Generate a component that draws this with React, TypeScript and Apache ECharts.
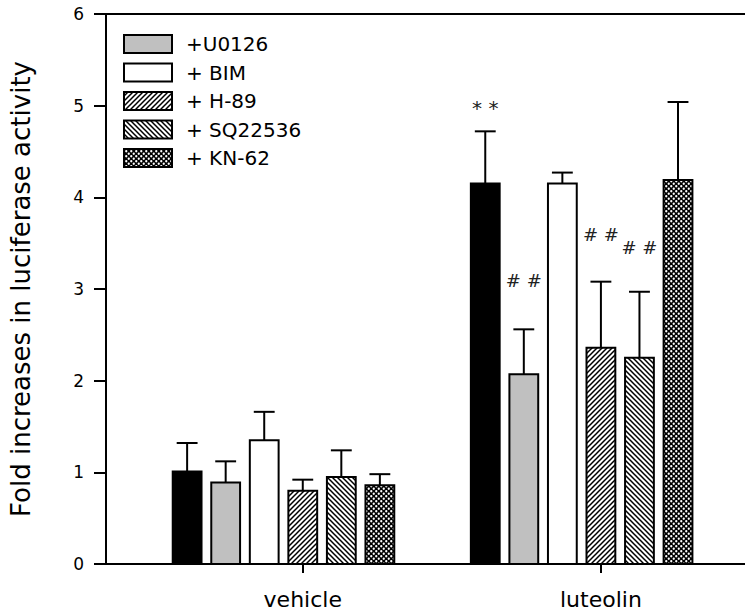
import React, { useEffect, useRef } from "react";
import * as echarts from "echarts";

const categories = ["vehicle", "luteolin"];
const treatments = ["Control", "+U0126", "+ BIM", "+ H-89", "+ SQ22536", "+ KN-62"];
const vehicleMean = [1.01, 0.89, 1.35, 0.8, 0.95, 0.86];
const vehicleErr = [0.31, 0.23, 0.31, 0.12, 0.29, 0.12];
const luteolinMean = [4.15, 2.07, 4.15, 2.36, 2.25, 4.19];
const luteolinErr = [0.57, 0.49, 0.12, 0.72, 0.72, 0.85];
const luteolinMarks = ["* *", "# #", "", "# #", "# #", ""];
const luteolinMarkY = [4.98, 3.09, 0, 3.59, 3.45, 0];
const yLabel = "Fold increases in luciferase activity";

const FONT = "DejaVu Sans";

function makeTile(kind: string): string {
  const s = 5;
  const c = document.createElement("canvas");
  c.width = s;
  c.height = s;
  const ctx = c.getContext("2d")!;
  if (kind === "dots") {
    ctx.fillStyle = "#000";
    ctx.fillRect(0, 0, s, s);
    ctx.fillStyle = "#fff";
    const pts = [
      [1.25, 1.25],
      [3.75, 3.75],
    ];
    for (const [x, y] of pts) {
      ctx.beginPath();
      ctx.arc(x, y, 1.15, 0, Math.PI * 2);
      ctx.fill();
    }
  } else {
    ctx.fillStyle = "#fff";
    ctx.fillRect(0, 0, s, s);
    ctx.strokeStyle = "#000";
    ctx.lineWidth = 1.5;
    ctx.beginPath();
    if (kind === "fwd") {
      ctx.moveTo(-1, s + 1);
      ctx.lineTo(s + 1, -1);
      ctx.moveTo(-1, 1);
      ctx.lineTo(1, -1);
      ctx.moveTo(s - 1, s + 1);
      ctx.lineTo(s + 1, s - 1);
    } else {
      ctx.moveTo(-1, -1);
      ctx.lineTo(s + 1, s + 1);
      ctx.moveTo(s - 1, -1);
      ctx.lineTo(s + 1, 1);
      ctx.moveTo(-1, s - 1);
      ctx.lineTo(1, s + 1);
    }
    ctx.stroke();
  }
  return c.toDataURL();
}

export default function App() {
  const ref = useRef<HTMLDivElement>(null);
  useEffect(() => {
    if (!ref.current) return;
    const chart = echarts.init(ref.current, null, { renderer: "svg" });
    const fills: any[] = [
      "#000000",
      "#c0c0c0",
      "#ffffff",
      { image: makeTile("fwd"), repeat: "repeat" },
      { image: makeTile("back"), repeat: "repeat" },
      { image: makeTile("dots"), repeat: "repeat" },
    ];
    const means = [vehicleMean, luteolinMean];
    const errs = [vehicleErr, luteolinErr];
    const step = 0.1293;
    const halfW = 0.0483;
    const capHalf = 0.035;

    const renderItem = (params: any, api: any) => {
      const i = params.seriesIndex;
      const j = params.dataIndex;
      const cat = api.value(0);
      const mean = api.value(1);
      const err = api.value(2);
      const cx = cat + (i - 3) * step;
      const tl = api.coord([cx - halfW, mean]);
      const br = api.coord([cx + halfW, 0]);
      const c = api.coord([cx, mean]);
      const e = api.coord([cx, mean + err]);
      const capL = api.coord([cx - capHalf, mean + err]);
      const capR = api.coord([cx + capHalf, mean + err]);
      const children: any[] = [
        {
          type: "line",
          shape: { x1: c[0], y1: c[1], x2: e[0], y2: e[1] },
          style: { stroke: "#000", lineWidth: 2 },
        },
        {
          type: "line",
          shape: { x1: capL[0], y1: capL[1], x2: capR[0], y2: capR[1] },
          style: { stroke: "#000", lineWidth: 2 },
        },
        {
          type: "rect",
          shape: { x: tl[0], y: tl[1], width: br[0] - tl[0], height: br[1] - tl[1] },
          style: { fill: fills[i], stroke: "#000", lineWidth: 2 },
        },
      ];
      const mark = j === 1 ? luteolinMarks[i] : "";
      if (mark) {
        const m = api.coord([cx, luteolinMarkY[i]]);
        children.push({
          type: "text",
          x: m[0],
          y: m[1],
          style: {
            text: mark,
            align: "center",
            verticalAlign: "middle",
            fontSize: mark.startsWith("*") ? 20 : 18,
            fontFamily: FONT,
            fill: "#222",
          },
        });
      }
      return { type: "group", children };
    };

    const axisLineStyle = { color: "#000", width: 2 };
    const legendItems: any[] = [];
    treatments.slice(1).forEach((name, k) => {
      legendItems.push({
        type: "rect",
        shape: { x: 124, y: 35 + k * 28.5, width: 48, height: 18 },
        style: { fill: fills[k + 1], stroke: "#000", lineWidth: 2 },
      });
      legendItems.push({
        type: "text",
        x: 186,
        y: 44 + k * 28.5,
        style: {
          text: name,
          fontSize: 20,
          fontFamily: FONT,
          fill: "#000",
          verticalAlign: "middle",
        },
      });
    });

    chart.setOption({
      animation: false,
      textStyle: { fontFamily: FONT },
      grid: { left: 102, right: 0, top: 14, bottom: 51 },
      xAxis: [
        {
          type: "value",
          min: -0.66,
          max: 1.4833,
          axisLine: { show: true, onZero: false, lineStyle: axisLineStyle },
          axisTick: { show: true, customValues: [0, 1], length: 9, lineStyle: axisLineStyle },
          axisLabel: {
            customValues: [0, 1],
            formatter: (v: number) => categories[Math.round(v)] ?? "",
            fontSize: 22,
            color: "#000",
            margin: 24,
            fontFamily: FONT,
          },
          splitLine: { show: false },
        },
        {
          type: "value",
          position: "top",
          min: 0,
          max: 1,
          axisLine: { show: true, onZero: false, lineStyle: axisLineStyle },
          axisTick: { show: false },
          axisLabel: { show: false },
          splitLine: { show: false },
        },
      ],
      yAxis: {
        type: "value",
        min: 0,
        max: 6,
        interval: 1,
        name: yLabel,
        nameLocation: "middle",
        nameGap: 72,
        nameTextStyle: { fontSize: 26, color: "#000", fontFamily: FONT },
        axisLine: { show: true, onZero: false, lineStyle: axisLineStyle },
        axisTick: { show: true, length: 12, lineStyle: axisLineStyle },
        axisLabel: { fontSize: 17, color: "#000", margin: 22, fontFamily: FONT },
        splitLine: { show: false },
      },
      series: treatments.map((name, i) => ({
        type: "custom",
        name,
        xAxisIndex: 0,
        yAxisIndex: 0,
        renderItem,
        data: categories.map((_, j) => [j, means[j][i], errs[j][i]]),
      })),
      graphic: legendItems,
    });
    return () => chart.dispose();
  }, []);
  return (
    <div
      ref={ref}
      style={{ position: "absolute", left: 0, top: 0, width: 745, height: 615, background: "#fff" }}
    />
  );
}
